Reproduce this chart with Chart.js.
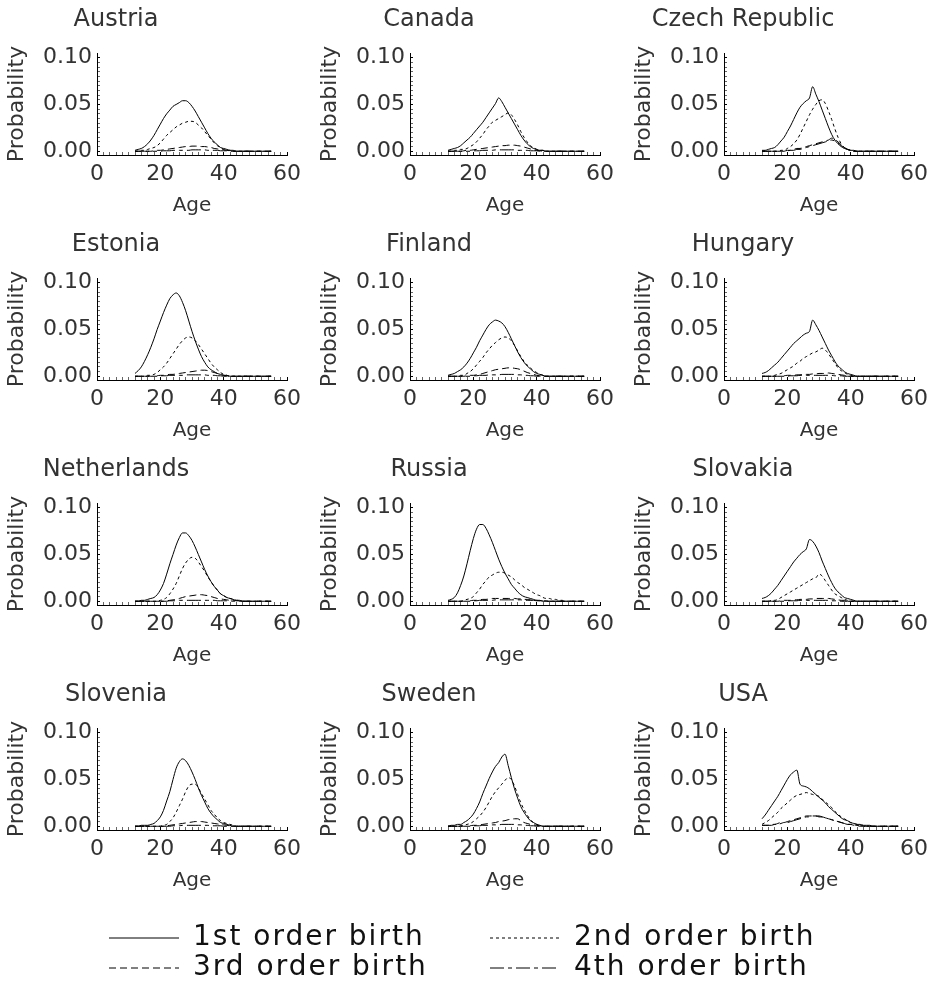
<!DOCTYPE html>
<html><head><meta charset="utf-8">
<script src="https://cdn.jsdelivr.net/npm/chart.js@4.4.1/dist/chart.umd.min.js"></script>
<style>
html,body{margin:0;padding:0;background:#fff;}
body{width:938px;height:985px;position:relative;overflow:hidden;}
.p{position:absolute;}
.p canvas{display:block;}
</style></head><body>
<script>
// ---------- DATA ----------
const ages = [12,13,14,15,16,17,18,19,20,21,22,23,24,25,26,27,28,29,30,31,32,33,34,35,36,37,38,39,40,41,42,43,44,45,46,47,48,49,50,51,52,53,54,55];
const countries = ['Austria','Canada','Czech Republic','Estonia','Finland','Hungary','Netherlands','Russia','Slovakia','Slovenia','Sweden','USA'];
const orderLabels = ['1st order birth','2nd order birth','3rd order birth','4th order birth'];
const xTickLabels = [0,20,40,60];
const yTickLabels = [0.00,0.05,0.10];
const xAxisTitle = 'Age';
const yAxisTitle = 'Probability';

const austria1 = [.001,.002,.003,.005,.008,.012,.017,.023,.029,.035, .040,.044,.048,.050,.052,.054,.054,.052,.048,.043, .037,.031,.025,.019,.014,.010,.007,.004,.003,.002, .001,.001,0,0,0,0,0,0,0,0, 0,0,0,0];
const austria2 = [0,0,.001,.001,.002,.003,.004,.006,.009,.013, .017,.020,.023,.026,.028,.030,.031,.032,.032,.031, .028,.025,.021,.017,.013,.009,.006,.004,.002,.001, .001,0,0,0,0,0,0,0,0,0, 0,0,0,0];
const austria3 = [0,0,0,0,0,0,.0005,.001,.001,.0015, .002,.0025,.003,.0035,.004,.0045,.005,.005,.0055,.0055, .0055,.005,.005,.0045,.004,.003,.0025,.002,.0015,.001, .0005,0,0,0,0,0,0,0,0,0, 0,0,0,0];
const austria4 = [0,0,0,0,0,0,0,0,0,.0005, .0005,.0005,.001,.001,.001,.001,.001,.001,.0015,.0015, .0015,.0015,.0015,.001,.001,.001,.001,.0005,.0005,.0005, 0,0,0,0,0,0,0,0,0,0, 0,0,0,0];

const canada1 = [.001,.002,.003,.004,.006,.009,.012,.015,.019,.023, .027,.031,.036,.041,.046,.051,.057,.053,.047,.041, .035,.029,.023,.017,.012,.008,.005,.003,.002,.001, .001,0,0,0,0,0,0,0,0,0, 0,0,0,0];
const canada2 = [0,0,.001,.001,.002,.002,.003,.005,.007,.010, .014,.018,.023,.027,.031,.033,.035,.037,.039,.041, .039,.034,.028,.021,.015,.010,.006,.004,.002,.001, .001,0,0,0,0,0,0,0,0,0, 0,0,0,0];
const canada3 = [0,0,0,0,0,.0005,.001,.001,.0015,.002, .0025,.003,.0035,.004,.0045,.005,.0055,.006,.006,.0065, .0065,.0065,.006,.0055,.0045,.0035,.0025,.0015,.001,.0005, 0,0,0,0,0,0,0,0,0,0, 0,0,0,0];
const canada4 = [0,0,0,0,0,0,0,0,.0005,.0005, .0005,.001,.001,.001,.001,.0015,.0015,.0015,.0015,.0015, .0015,.0015,.001,.001,.001,.001,.0005,.0005,.0005,0, 0,0,0,0,0,0,0,0,0,0, 0,0,0,0];

const czech1 = [.001,.001,.002,.003,.004,.007,.011,.015,.021,.027, .034,.041,.047,.051,.054,.057,.069,.061,.053,.044, .035,.026,.018,.012,.008,.005,.003,.002,.001,.001, 0,0,0,0,0,0,0,0,0,0, 0,0,0,0];
const czech2 = [0,0,0,0,0,0,.001,.001,.003,.005, .008,.012,.018,.025,.032,.039,.045,.050,.054,.055, .051,.043,.034,.024,.015,.008,.004,.002,.001,0, 0,0,0,0,0,0,0,0,0,0, 0,0,0,0];
const czech3 = [0,0,0,0,0,0,0,0,.001,.001, .002,.003,.003,.004,.005,.006,.007,.008,.009,.010, .011,.012,.014,.013,.010,.007,.004,.002,.001,0, 0,0,0,0,0,0,0,0,0,0, 0,0,0,0];
const czech4 = [0,0,0,0,0,0,0,0,.0005,.001, .001,.002,.002,.003,.004,.005,.006,.007,.008,.009, .010,.011,.012,.011,.009,.006,.004,.002,.001,0, 0,0,0,0,0,0,0,0,0,0, 0,0,0,0];

const estonia1 = [.003,.006,.010,.016,.023,.031,.040,.050,.059,.068, .076,.083,.087,.089,.086,.079,.070,.059,.048,.038, .029,.021,.015,.010,.007,.005,.003,.002,.001,.001, 0,0,0,0,0,0,0,0,0,0, 0,0,0,0];
const estonia2 = [0,0,0,0,.001,.001,.002,.004,.007,.010, .014,.019,.024,.029,.034,.038,.041,.042,.041,.038, .034,.029,.024,.019,.014,.010,.007,.004,.002,.001, 0,0,0,0,0,0,0,0,0,0, 0,0,0,0];
const estonia3 = [0,0,0,0,0,0,0,.0005,.001,.001, .0015,.002,.002,.0025,.003,.0035,.004,.0045,.005,.0055, .006,.0065,.0065,.006,.005,.004,.003,.002,.001,.0005, 0,0,0,0,0,0,0,0,0,0, 0,0,0,0];
const estonia4 = [0,0,0,0,0,0,0,0,.0005,.0005, .0005,.001,.001,.001,.001,.001,.0015,.0015,.0015,.0015, .0015,.0015,.0015,.001,.001,.001,.0005,.0005,0,0, 0,0,0,0,0,0,0,0,0,0, 0,0,0,0];

const finland1 = [.001,.002,.003,.005,.007,.010,.014,.019,.025,.031, .038,.044,.050,.055,.058,.060,.059,.057,.053,.047, .040,.033,.026,.020,.015,.011,.008,.005,.003,.002, .001,0,0,0,0,0,0,0,0,0, 0,0,0,0];
const finland2 = [0,0,0,0,.001,.001,.003,.005,.008,.012, .016,.020,.025,.029,.033,.036,.039,.041,.042,.041, .038,.033,.027,.021,.016,.012,.009,.006,.004,.002, .001,0,0,0,0,0,0,0,0,0, 0,0,0,0];
const finland3 = [0,0,0,0,0,0,.0005,.001,.001,.0015, .002,.003,.004,.005,.006,.007,.0075,.008,.0085,.009, .009,.0085,.008,.007,.0055,.004,.003,.002,.001,.0005, 0,0,0,0,0,0,0,0,0,0, 0,0,0,0];
const finland4 = [0,0,0,0,0,0,0,0,.0005,.0005, .001,.001,.001,.0015,.0015,.0015,.0015,.002,.002,.002, .002,.002,.0015,.0015,.001,.001,.0005,.0005,0,0, 0,0,0,0,0,0,0,0,0,0, 0,0,0,0];

const hungary1 = [.003,.004,.006,.009,.012,.015,.019,.023,.027,.031, .035,.038,.041,.044,.046,.048,.060,.055,.049,.042, .035,.028,.022,.016,.011,.008,.005,.003,.002,.001, 0,0,0,0,0,0,0,0,0,0, 0,0,0,0];
const hungary2 = [0,0,0,0,.001,.002,.003,.005,.007,.009, .011,.014,.016,.019,.021,.023,.025,.026,.028,.030, .028,.024,.019,.014,.009,.006,.004,.002,.001,0, 0,0,0,0,0,0,0,0,0,0, 0,0,0,0];
const hungary3 = [0,0,0,0,0,0,0,.0005,.001,.001, .001,.0015,.0015,.002,.002,.002,.0025,.0025,.003,.003, .003,.0035,.003,.0025,.002,.0015,.001,.0005,0,0, 0,0,0,0,0,0,0,0,0,0, 0,0,0,0];
const hungary4 = [0,0,0,0,0,0,0,0,0,.0005, .0005,.0005,.001,.001,.001,.001,.001,.001,.001,.001, .001,.001,.001,.0005,.0005,.0005,0,0,0,0, 0,0,0,0,0,0,0,0,0,0, 0,0,0,0];

const netherlands1 = [0,0,.001,.001,.002,.003,.004,.007,.012,.019, .029,.040,.050,.060,.068,.073,.073,.070,.065,.058, .050,.042,.034,.027,.021,.016,.012,.008,.006,.004, .003,.002,.001,.001,0,0,0,0,0,0, 0,0,0,0];
const netherlands2 = [0,0,0,0,0,0,0,0,.001,.002, .004,.008,.013,.019,.027,.035,.041,.045,.047,.046, .042,.037,.032,.026,.021,.016,.012,.008,.006,.004, .003,.002,.001,.001,0,0,0,0,0,0, 0,0,0,0];
const netherlands3 = [0,0,0,0,0,0,0,0,0,0, .0005,.001,.0015,.002,.003,.004,.005,.0055,.006,.0065, .007,.007,.0065,.006,.005,.004,.003,.0025,.002,.0015, .001,.001,.0005,.0005,0,0,0,0,0,0, 0,0,0,0];
const netherlands4 = [0,0,0,0,0,0,0,0,0,0, 0,.0005,.0005,.0005,.001,.001,.001,.001,.001,.001, .001,.001,.001,.001,.001,.001,.0005,.0005,.0005,.0005, .0005,0,0,0,0,0,0,0,0,0, 0,0,0,0];

const russia1 = [.001,.002,.004,.009,.017,.027,.040,.054,.067,.077, .082,.082,.078,.071,.063,.054,.045,.037,.030,.024, .018,.014,.010,.007,.005,.004,.003,.002,.001,.001, 0,0,0,0,0,0,0,0,0,0, 0,0,0,0];
const russia2 = [0,0,0,0,0,.001,.002,.003,.005,.009, .013,.018,.022,.026,.028,.030,.031,.031,.030,.028, .026,.023,.020,.018,.015,.013,.011,.009,.007,.006, .004,.003,.003,.002,.002,.001,.001,0,0,0, 0,0,0,0];
const russia3 = [0,0,0,0,0,0,0,.0005,.001,.001, .0015,.002,.002,.0025,.003,.003,.003,.003,.003,.003, .003,.003,.0025,.0025,.002,.002,.0015,.001,.001,.0005, .0005,0,0,0,0,0,0,0,0,0, 0,0,0,0];
const russia4 = [0,0,0,0,0,0,0,0,.0005,.0005, .001,.001,.001,.001,.001,.0015,.0015,.0015,.0015,.0015, .0015,.0015,.0015,.0015,.001,.001,.001,.001,.0005,.0005, .0005,.0005,0,0,0,0,0,0,0,0, 0,0,0,0];

const slovakia1 = [.003,.004,.006,.009,.013,.017,.022,.027,.032,.037, .042,.046,.050,.053,.056,.066,.064,.059,.052,.043, .035,.027,.020,.014,.010,.007,.004,.003,.002,.001, 0,0,0,0,0,0,0,0,0,0, 0,0,0,0];
const slovakia2 = [0,0,0,.001,.001,.002,.004,.006,.008,.010, .012,.014,.016,.018,.020,.022,.024,.025,.029,.027, .022,.017,.012,.008,.006,.004,.002,.001,0,0, 0,0,0,0,0,0,0,0,0,0, 0,0,0,0];
const slovakia3 = [0,0,0,0,0,0,.0005,.001,.001,.001, .0015,.0015,.002,.002,.002,.0025,.0025,.003,.003,.003, .003,.003,.0025,.002,.0015,.001,.001,.0005,0,0, 0,0,0,0,0,0,0,0,0,0, 0,0,0,0];
const slovakia4 = [0,0,0,0,0,0,0,0,.0005,.0005, .0005,.0005,.001,.001,.001,.001,.001,.001,.001,.001, .001,.001,.0005,.0005,.0005,0,0,0,0,0, 0,0,0,0,0,0,0,0,0,0, 0,0,0,0];

const slovenia1 = [0,0,.001,.001,.001,.002,.003,.006,.010,.017, .027,.037,.050,.062,.069,.072,.070,.065,.058,.050, .041,.033,.026,.019,.014,.010,.007,.004,.003,.002, .001,0,0,0,0,0,0,0,0,0, 0,0,0,0];
const slovenia2 = [0,0,0,0,0,0,0,0,0,.001, .002,.005,.009,.015,.022,.029,.037,.043,.045,.045, .041,.035,.029,.023,.017,.013,.009,.006,.004,.003, .002,.001,0,0,0,0,0,0,0,0, 0,0,0,0];
const slovenia3 = [0,0,0,0,0,0,0,0,0,0, .0005,.001,.0015,.002,.0025,.003,.0035,.004,.0045,.005, .005,.005,.0045,.004,.0035,.003,.0025,.002,.0015,.001, .0005,.0005,0,0,0,0,0,0,0,0, 0,0,0,0];
const slovenia4 = [0,0,0,0,0,0,0,0,0,0, 0,0,.0005,.0005,.0005,.001,.001,.001,.001,.001, .001,.001,.001,.001,.0005,.0005,.0005,.0005,0,0, 0,0,0,0,0,0,0,0,0,0, 0,0,0,0];

const sweden1 = [0,.001,.001,.002,.002,.004,.006,.009,.013,.019, .026,.035,.043,.051,.058,.064,.068,.074,.077,.065, .052,.040,.030,.021,.015,.010,.006,.004,.002,.001, 0,0,0,0,0,0,0,0,0,0, 0,0,0,0];
const sweden2 = [0,0,0,0,.001,.001,.002,.003,.005,.008, .011,.015,.020,.026,.032,.037,.041,.045,.049,.052, .050,.043,.034,.025,.018,.012,.007,.004,.002,.001, 0,0,0,0,0,0,0,0,0,0, 0,0,0,0];
const sweden3 = [0,0,0,0,0,0,0,.0005,.001,.001, .0015,.002,.0025,.003,.0035,.004,.005,.0055,.006,.007, .0075,.008,.008,.006,.004,.003,.002,.0015,.001,.0005, 0,0,0,0,0,0,0,0,0,0, 0,0,0,0];
const sweden4 = [0,0,0,0,0,0,0,0,.0005,.0005, .0005,.001,.001,.001,.0015,.0015,.0015,.002,.002,.002, .002,.002,.0015,.0015,.001,.001,.0005,.0005,0,0, 0,0,0,0,0,0,0,0,0,0, 0,0,0,0];

const usa1 = [.008,.012,.017,.022,.027,.032,.038,.044,.050,.055, .058,.060,.045,.043,.042,.040,.037,.034,.031,.028, .025,.021,.018,.015,.012,.009,.007,.006,.004,.003, .002,.002,.001,.001,.001,0,0,0,0,0, 0,0,0,0];
const usa2 = [.002,.004,.006,.009,.012,.015,.019,.022,.025,.028, .031,.033,.034,.035,.036,.035,.034,.033,.032,.029, .026,.023,.020,.016,.013,.010,.008,.006,.004,.003, .002,.001,.001,0,0,0,0,0,0,0, 0,0,0,0];
const usa3 = [.001,.001,.001,.002,.002,.003,.004,.004,.005,.006, .007,.008,.009,.010,.011,.011,.011,.011,.011,.010, .009,.008,.007,.006,.005,.004,.003,.002,.002,.001, .001,0,0,0,0,0,0,0,0,0, 0,0,0,0];
const usa4 = [.001,.001,.001,.001,.002,.002,.003,.004,.004,.005, .006,.007,.008,.009,.010,.010,.011,.011,.010,.010, .009,.008,.007,.006,.005,.004,.003,.002,.002,.001, .001,0,0,0,0,0,0,0,0,0, 0,0,0,0];

const seriesByCountry = [
  [austria1,austria2,austria3,austria4],
  [canada1,canada2,canada3,canada4],
  [czech1,czech2,czech3,czech4],
  [estonia1,estonia2,estonia3,estonia4],
  [finland1,finland2,finland3,finland4],
  [hungary1,hungary2,hungary3,hungary4],
  [netherlands1,netherlands2,netherlands3,netherlands4],
  [russia1,russia2,russia3,russia4],
  [slovakia1,slovakia2,slovakia3,slovakia4],
  [slovenia1,slovenia2,slovenia3,slovenia4],
  [sweden1,sweden2,sweden3,sweden4],
  [usa1,usa2,usa3,usa4]
];

// ---------- STYLE ----------
const FONT = "'DejaVu Sans', sans-serif";
const TEXT = '#333';
const dashes = [[], [3,3], [7,4], [14,4,4,4]];
Chart.defaults.font.family = FONT;
Chart.defaults.color = TEXT;

const colLeft = [0, 313, 627];
const rowTop = 225;
const W = 310, H = 225;

const titlePlugin = {
  id: 'panelTitle',
  afterDraw(chart, args, opts) {
    const ctx = chart.ctx;
    ctx.save();
    ctx.font = opts.size + 'px ' + FONT;
    ctx.fillStyle = TEXT;
    ctx.textAlign = 'center';
    ctx.textBaseline = 'middle';
    ctx.fillText(opts.text, opts.x, opts.y);
    ctx.restore();
  }
};

function isMajor(v, list) { return list.some(t => Math.abs(t - v) < 1e-9); }

function makeCanvas(left, top, w, h) {
  const d = document.createElement('div');
  d.className = 'p';
  d.style.left = left + 'px';
  d.style.top = top + 'px';
  d.style.width = w + 'px';
  d.style.height = h + 'px';
  const c = document.createElement('canvas');
  c.width = w; c.height = h;
  c.style.width = w + 'px'; c.style.height = h + 'px';
  d.appendChild(c);
  document.body.appendChild(d);
  return c;
}

countries.forEach((name, i) => {
  const col = i % 3, row = Math.floor(i / 3);
  const canvas = makeCanvas(colLeft[col], row * rowTop, W, H);
  const datasets = seriesByCountry[i].map((vals, k) => ({
    label: orderLabels[k],
    data: ages.map((a, j) => ({x: a, y: vals[j]})),
    borderColor: '#000',
    borderWidth: 1,
    borderDash: dashes[k],
    pointRadius: 0,
    fill: false,
    cubicInterpolationMode: 'monotone'
  }));
  new Chart(canvas, {
    type: 'line',
    data: {datasets},
    plugins: [titlePlugin],
    options: {
      responsive: false,
      animation: false,
      events: [],
      layout: {padding: {left: 0, right: 20, top: 53, bottom: 0}},
      plugins: {
        legend: {display: false},
        tooltip: {enabled: false},
        panelTitle: {text: name, x: 116, y: 20, size: 24}
      },
      scales: {
        x: {
          type: 'linear', min: 0, max: 60,
          afterBuildTicks: s => { const t = []; for (let v = 0; v <= 60; v += 2) t.push({value: v}); s.ticks = t; },
          afterFit: s => { s.height = 70; },
          ticks: {
            autoSkip: false, maxRotation: 0, minRotation: 0, padding: 9,
            font: {size: 22}, color: TEXT,
            callback: v => isMajor(v, xTickLabels) ? String(v) : ''
          },
          grid: {
            drawOnChartArea: false, drawTicks: true, tickLength: -3,
            tickColor: c => isMajor(c.tick.value, xTickLabels) ? '#000' : '#666',
            tickWidth: 1
          },
          border: {display: true, color: '#000', width: 1},
          title: {display: true, text: xAxisTitle, font: {size: 20}, color: TEXT, padding: {top: 0, bottom: 7}}
        },
        y: {
          type: 'linear', min: -0.004, max: 0.105,
          afterBuildTicks: s => { const t = []; for (let k = 0; k <= 20; k++) t.push({value: k * 0.005}); s.ticks = t; },
          afterFit: s => { s.width = 97; },
          ticks: {
            autoSkip: false, padding: 8,
            font: {size: 22}, color: TEXT,
            callback: v => isMajor(v, yTickLabels) ? v.toFixed(2) : ''
          },
          grid: {
            drawOnChartArea: false, drawTicks: true, tickLength: -3,
            tickColor: c => isMajor(c.tick.value, yTickLabels) ? '#000' : '#666',
            tickWidth: 1
          },
          border: {display: true, color: '#000', width: 1},
          title: {display: true, text: yAxisTitle, font: {size: 22}, color: TEXT, padding: {top: 4, bottom: 0}}
        }
      }
    }
  });
});

// ---------- LEGEND (two columns) ----------
const spacingPlugin = {
  id: 'spacing',
  beforeLayout(c) { c.ctx.letterSpacing = '2px'; },
  beforeDraw(c) { c.ctx.letterSpacing = '2px'; }
};
const legendColumns = [[0, 2], [1, 3]];
const legendLeft = [107, 488];
legendColumns.forEach((idxs, ci) => {
  const canvas = makeCanvas(legendLeft[ci], 922, 350, 150);
  new Chart(canvas, {
    type: 'line',
    data: {datasets: idxs.map(k => ({label: orderLabels[k], data: [], borderColor: '#000', borderWidth: 1, borderDash: dashes[k], pointRadius: 0}))},
    plugins: [spacingPlugin],
    options: {
      responsive: false, animation: false, events: [],
      layout: {padding: 0},
      scales: {x: {display: false}, y: {display: false}},
      plugins: {
        tooltip: {enabled: false},
        legend: {
          display: true, position: 'top', align: 'start',
          labels: {
            usePointStyle: true, pointStyle: 'line', pointStyleWidth: 70, padding: 2, color: '#111', font: {size: 28},
            generateLabels: chart => chart.data.datasets.map((ds, i) => ({
              text: ds.label, datasetIndex: i, hidden: false,
              strokeStyle: ds.borderColor, fillStyle: ds.borderColor, fontColor: '#111',
              lineWidth: ds.borderWidth, lineDash: ds.borderDash, lineCap: 'butt',
              pointStyle: 'line', rotation: 0
            }))
          }
        }
      }
    }
  });
});
</script>
</body></html>
